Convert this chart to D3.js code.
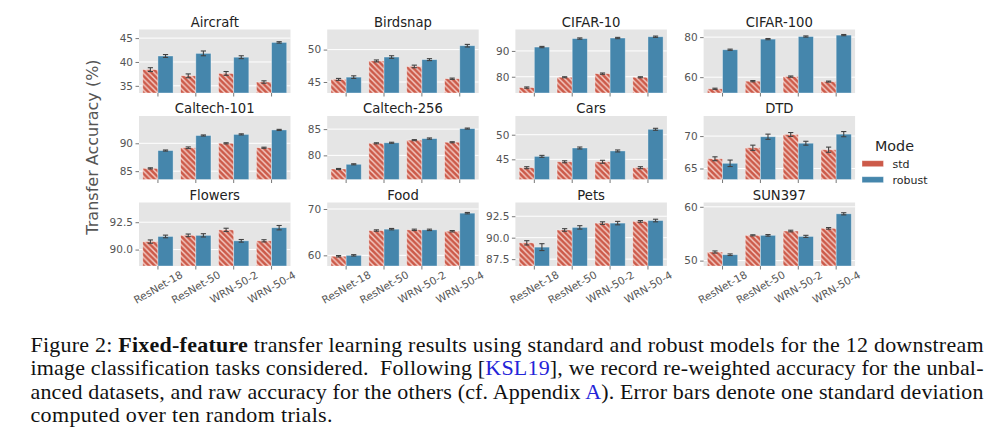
<!DOCTYPE html>
<html>
<head>
<meta charset="utf-8">
<script src="https://cdn.jsdelivr.net/npm/d3@7/dist/d3.min.js"></script>
<style>
  body { margin: 0; background: #fff; }
  svg { display: block; }
  .axis text { font-family: 'DejaVu Sans', sans-serif; font-size: 10.5px; fill: #555; }
  .axis line { stroke: #555; stroke-width: 0.8; }
  .title { font-family: 'DejaVu Sans', sans-serif; font-size: 13.2px; fill: #222; }
  .ylabel { font-family: 'DejaVu Sans', sans-serif; font-size: 16px; fill: #555; }
  .legend text { font-family: 'DejaVu Sans', sans-serif; fill: #262626; }
  .caption { font-family: 'Liberation Serif', 'Times New Roman', serif; font-size: 22px; fill: #111; }
  .caption .link { fill: #2424d8; }
</style>
</head>
<body>
<div id="chart"></div>
<script>
// Fixed-feature transfer accuracy, std vs robust backbones, 12 datasets

const datasets = ['Aircraft', 'Birdsnap', 'CIFAR-10', 'CIFAR-100',
  'Caltech-101', 'Caltech-256', 'Cars', 'DTD',
  'Flowers', 'Food', 'Pets', 'SUN397'];
const models = ['ResNet-18', 'ResNet-50', 'WRN-50-2', 'WRN-50-4'];
const modes = ['std', 'robust'];

const stdAcc = [
  [38.4, 37.1, 37.6, 35.8],
  [45.4, 48.25, 47.4, 45.5],
  [75.8, 79.8, 81.2, 79.8],
  [54.2, 58.0, 60.3, 57.8],
  [85.5, 89.2, 90.0, 89.2],
  [77.4, 82.3, 82.9, 82.5],
  [43.3, 44.5, 44.5, 43.3],
  [66.5, 68.2, 70.25, 67.9],
  [90.73, 91.3, 91.8, 90.8],
  [59.8, 65.35, 65.5, 65.2],
  [89.4, 90.9, 91.7, 91.9],
  [51.6, 54.7, 55.5, 56.0]
];
const robustAcc = [
  [41.25, 41.8, 41.0, 44.1],
  [45.75, 48.85, 48.45, 50.6],
  [91.5, 94.8, 95.0, 95.5],
  [73.7, 79.0, 80.3, 81.0],
  [88.7, 91.4, 91.6, 92.4],
  [78.3, 82.4, 83.2, 85.1],
  [45.6, 47.3, 46.7, 51.1],
  [65.8, 69.9, 68.9, 70.3],
  [91.2, 91.3, 90.8, 92.0],
  [60.0, 65.65, 65.5, 69.1],
  [88.9, 91.2, 91.7, 92.0],
  [51.1, 54.7, 54.5, 58.7]
];
const stdErr = [
  [0.4, 0.4, 0.4, 0.25],
  [0.15, 0.15, 0.2, 0.1],
  [0.25, 0.2, 0.25, 0.2],
  [0.3, 0.3, 0.3, 0.25],
  [0.1, 0.15, 0.1, 0.1],
  [0.1, 0.1, 0.1, 0.1],
  [0.2, 0.2, 0.3, 0.2],
  [0.3, 0.4, 0.3, 0.4],
  [0.15, 0.12, 0.15, 0.1],
  [0.15, 0.15, 0.15, 0.15],
  [0.25, 0.15, 0.15, 0.1],
  [0.2, 0.1, 0.15, 0.15]
];
const robustErr = [
  [0.3, 0.5, 0.3, 0.15],
  [0.2, 0.2, 0.15, 0.2],
  [0.25, 0.25, 0.25, 0.25],
  [0.3, 0.3, 0.3, 0.3],
  [0.1, 0.1, 0.1, 0.1],
  [0.1, 0.1, 0.12, 0.1],
  [0.2, 0.2, 0.2, 0.2],
  [0.5, 0.4, 0.3, 0.4],
  [0.12, 0.15, 0.12, 0.2],
  [0.15, 0.15, 0.15, 0.15],
  [0.4, 0.2, 0.2, 0.15],
  [0.15, 0.15, 0.2, 0.2]
];
const yLimits = [
  [33.5, 46.8], [43.3, 53.1], [73.7, 98.3], [52.1, 83.8],
  [83.5, 94.9], [75.4, 87.5], [40.9, 53.8], [63.3, 73.1],
  [88.5, 94.3], [57.7, 71.4], [86.7, 94.1], [49.0, 60.8]
];
const yTicks = [
  [35, 40, 45], [45, 50], [80, 90], [60, 80],
  [85, 90], [80, 85], [45, 50], [65, 70],
  [90.0, 92.5], [60, 70], [87.5, 90.0, 92.5], [50, 60]
];

const colors = { std: '#cc5a49', robust: '#4586ac' };
const W = 1006, H = 432;
const grid = { left: 139, top: 29.5, width: 151.5, height: 63.5, colStep: 188.2, rowStep: 86.5 };

const svg = d3.select('#chart').append('svg')
  .attr('width', W).attr('height', H)
  .style('background', '#fff');

// hatch for the std bars
const hp = 5.6;
const defs = svg.append('defs');
const pat = defs.append('pattern')
  .attr('id', 'hatch').attr('patternUnits', 'userSpaceOnUse')
  .attr('width', hp).attr('height', hp);
pat.append('rect').attr('width', hp).attr('height', hp).attr('fill', colors.std);
pat.append('path')
  .attr('d', `M-1,-1 L${hp + 1},${hp + 1} M-1,${hp - 1} L1,${hp + 1} M${hp - 1},-1 L${hp + 1},1`)
  .attr('stroke', 'rgba(255,238,234,0.8)').attr('stroke-width', 1.4);

datasets.forEach((name, i) => {
  const col = i % 4, row = Math.floor(i / 4);
  const w = grid.width, h = grid.height;
  const g = svg.append('g')
    .attr('transform', `translate(${grid.left + col * grid.colStep},${grid.top + row * grid.rowStep})`);

  const x = d3.scaleBand().domain(models).range([0, w]);
  const xMode = d3.scaleBand().domain(modes).range([0, x.bandwidth() * 0.8]);
  const y = d3.scaleLinear().domain(yLimits[i]).range([h, 0]);

  g.append('rect').attr('width', w).attr('height', h).attr('fill', '#e5e5e5');

  g.selectAll('.grid').data(yTicks[i]).enter().append('line')
    .attr('x1', 0).attr('x2', w)
    .attr('y1', d => y(d)).attr('y2', d => y(d))
    .attr('stroke', '#fff').attr('stroke-width', 1);

  const rows = [];
  models.forEach((m, j) => {
    rows.push({ model: m, mode: 'std', v: stdAcc[i][j], e: stdErr[i][j] });
    rows.push({ model: m, mode: 'robust', v: robustAcc[i][j], e: robustErr[i][j] });
  });
  const bx = d => x(d.model) + x.bandwidth() * 0.1 + xMode(d.mode);

  g.selectAll('.bar').data(rows).enter().append('rect')
    .attr('class', 'bar')
    .attr('x', bx)
    .attr('y', d => y(d.v))
    .attr('width', xMode.bandwidth())
    .attr('height', d => h - y(d.v))
    .attr('fill', d => d.mode === 'std' ? 'url(#hatch)' : colors.robust)
    .attr('stroke', 'rgba(255,255,255,0.45)')
    .attr('stroke-width', 0.8);

  // error bars
  const eb = g.selectAll('.err').data(rows).enter().append('g')
    .attr('transform', d => `translate(${bx(d) + xMode.bandwidth() / 2},0)`)
    .attr('stroke', '#424242').attr('stroke-width', 1.1);
  eb.append('line').attr('y1', d => y(d.v - d.e)).attr('y2', d => y(d.v + d.e));
  eb.append('line').attr('x1', -2.6).attr('x2', 2.6).attr('y1', d => y(d.v - d.e)).attr('y2', d => y(d.v - d.e));
  eb.append('line').attr('x1', -2.6).attr('x2', 2.6).attr('y1', d => y(d.v + d.e)).attr('y2', d => y(d.v + d.e));

  const fmt = yTicks[i].some(t => t % 1) ? d3.format('.1f') : d3.format('d');
  const ya = g.append('g').attr('class', 'axis')
    .call(d3.axisLeft(y).tickValues(yTicks[i]).tickFormat(fmt).tickSize(3.5).tickPadding(2.5));
  ya.select('.domain').remove();
  ya.selectAll('text').attr('font-size', null).attr('font-family', null);

  const xa = g.append('g').attr('class', 'axis')
    .attr('transform', `translate(0,${h})`)
    .call(d3.axisBottom(x).tickSize(3.5));
  xa.select('.domain').remove();
  if (row === 2) {
    xa.selectAll('text')
      .attr('y', 0).attr('dy', null)
      .attr('dominant-baseline', 'central')
      .attr('transform', 'translate(0,21) rotate(-30)');
  } else {
    xa.selectAll('text').remove();
  }

  g.append('text').attr('class', 'title')
    .attr('x', w / 2).attr('y', -3)
    .attr('text-anchor', 'middle')
    .text(name);
});

svg.append('text').attr('class', 'ylabel')
  .attr('transform', 'translate(98,147) rotate(-90)')
  .attr('text-anchor', 'middle')
  .text('Transfer Accuracy (%)');

// legend
const lg = svg.append('g').attr('class', 'legend').attr('transform', 'translate(862,0)');
lg.append('text').attr('x', 13).attr('y', 150.5).style('font-size', '14.3px').text('Mode');
const item = lg.selectAll('.item').data(modes).enter().append('g')
  .attr('transform', (d, k) => `translate(0,${163.7 + k * 16})`);
item.append('rect').attr('x', 0).attr('y', -3).attr('width', 21.5).attr('height', 6)
  .attr('fill', d => colors[d]).attr('stroke', 'rgba(255,255,255,0.45)').attr('stroke-width', 0.8);
item.append('text').attr('x', 30.5).attr('y', 4).style('font-size', '11px').text(d => d);

// caption
const captionLines = [
  [['Figure 2: '], ['Fixed-feature', 'bold'], [' transfer learning results using standard and robust models for the 12 downstream']],
  [['image classification tasks considered.  Following ['], ['KSL19', 'link'], ['], we record re-weighted accuracy for the unbal-']],
  [['anced datasets, and raw accuracy for the others (cf. Appendix '], ['A', 'link'], ['). Error bars denote one standard deviation']],
  [['computed over ten random trials.']]
];
const captionWidths = [953, 953, 953, 302];

captionLines.forEach((segs, k) => {
  const t = svg.append('text').attr('class', 'caption')
    .attr('x', 30.5).attr('y', 352 + k * 23.3)
    .attr('textLength', captionWidths[k]).attr('lengthAdjust', 'spacing')
    .style('white-space', 'pre');
  segs.forEach(([s, kind]) => {
    const ts = t.append('tspan').text(s);
    if (kind === 'bold') ts.style('font-weight', 'bold');
    if (kind === 'link') ts.attr('class', 'link');
  });
});
</script>
</body>
</html>
